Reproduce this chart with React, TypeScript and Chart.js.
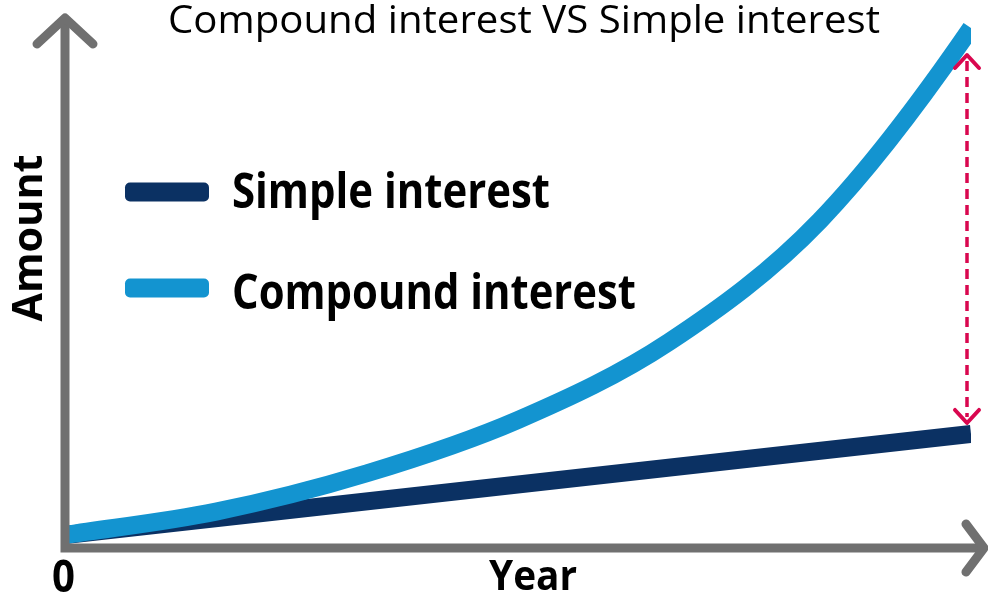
import React, { useEffect, useRef } from "react";
import { Chart, registerables } from "chart.js";

Chart.register(...registerables);

const TITLE = "Compound interest VS Simple interest";
const X_TITLE = "Year";
const Y_TITLE = "Amount";
const ORIGIN_LABEL = "0";

const simpleLabel = "Simple interest";
const simpleYears = [0, 30];
const simpleValues = [100, 877];

const compoundLabel = "Compound interest";
const compoundYears = [0, 5, 10, 15, 20, 25, 30, 30.5];
const compoundValues = [100, 280, 575, 985, 1585, 2520, 4000, 4190];

const X_MIN = 0;
const X_MAX = 30;
const Y_MIN = 0;
const Y_MAX = 4200;

const NAVY = "#0b3163";
const BLUE = "#1394d0";
const GRAY = "#707070";
const RED = "#d9074f";

function fitText(
  ctx: CanvasRenderingContext2D,
  text: string,
  x: number,
  y: number,
  font: string,
  width: number,
  align: CanvasTextAlign
) {
  ctx.save();
  ctx.font = font;
  const w = ctx.measureText(text).width || 1;
  const s = width / w;
  ctx.translate(x, y);
  ctx.scale(s, 1);
  ctx.textAlign = align;
  ctx.textBaseline = "alphabetic";
  ctx.fillStyle = "#000";
  ctx.fillText(text, 0, 0);
  ctx.restore();
}

const decorPlugin = {
  id: "decor",
  afterDatasetsDraw(chart: any) {
    const ctx: CanvasRenderingContext2D = chart.ctx;
    const { left, bottom } = chart.chartArea;
    const xs = chart.scales.x;
    const ys = chart.scales.y;

    // red dashed difference arrow at the last year
    const ax = xs.getPixelForValue(X_MAX) - 4;
    const compEnd = ys.getPixelForValue(compoundValues[compoundYears.indexOf(30)]);
    const simpEnd = ys.getPixelForValue(simpleValues[simpleValues.length - 1]);
    const topTip = compEnd + 27;
    const botTip = simpEnd - 11;
    ctx.save();
    ctx.strokeStyle = RED;
    ctx.lineWidth = 3.5;
    ctx.setLineDash([10, 6]);
    ctx.beginPath();
    ctx.moveTo(ax, topTip + 6);
    ctx.lineTo(ax, botTip - 6);
    ctx.stroke();
    ctx.setLineDash([]);
    ctx.lineWidth = 4;
    ctx.lineCap = "round";
    ctx.lineJoin = "round";
    ctx.beginPath();
    ctx.moveTo(ax - 12, topTip + 13);
    ctx.lineTo(ax, topTip);
    ctx.lineTo(ax + 12, topTip + 13);
    ctx.stroke();
    ctx.beginPath();
    ctx.moveTo(ax - 12, botTip - 13);
    ctx.lineTo(ax, botTip);
    ctx.lineTo(ax + 12, botTip - 13);
    ctx.stroke();
    ctx.restore();

    // axes with arrows
    ctx.save();
    ctx.strokeStyle = GRAY;
    ctx.lineWidth = 9;
    ctx.lineCap = "butt";
    ctx.beginPath();
    ctx.moveTo(left, bottom + 4.5);
    ctx.lineTo(left, 20);
    ctx.moveTo(left - 4.5, bottom);
    ctx.lineTo(983, bottom);
    ctx.stroke();
    ctx.lineCap = "round";
    ctx.lineJoin = "round";
    ctx.beginPath();
    ctx.moveTo(left - 28, 44);
    ctx.lineTo(left, 18);
    ctx.lineTo(left + 28, 44);
    ctx.stroke();
    ctx.beginPath();
    ctx.moveTo(966, bottom - 24);
    ctx.lineTo(984, bottom);
    ctx.lineTo(966, bottom + 24);
    ctx.stroke();
    ctx.restore();
  },
  afterDraw(chart: any) {
    const ctx: CanvasRenderingContext2D = chart.ctx;
    const ds = chart.data.datasets;

    // title
    fitText(ctx, TITLE, 524, 33, "400 39px 'Open Sans'", 712, "center");

    // legend (Simple first, then Compound)
    const items = [ds[0], ds[1]];
    const rows = [
      { bar: 192, base: 208, w: 318 },
      { bar: 288, base: 309, w: 404 },
    ];
    items.forEach((d: any, i: number) => {
      const r = rows[i];
      ctx.save();
      ctx.fillStyle = d.borderColor;
      ctx.beginPath();
      (ctx as any).roundRect(125, r.bar - 9.5, 84, 19, 5);
      ctx.fill();
      ctx.restore();
      fitText(ctx, d.label, 232, r.base, "700 49px 'Open Sans'", r.w, "left");
    });

    // axis titles
    ctx.save();
    ctx.translate(42, 238);
    ctx.rotate(-Math.PI / 2);
    fitText(ctx, Y_TITLE, 0, 0, "700 41px 'Open Sans'", 167, "center");
    ctx.restore();
    fitText(ctx, X_TITLE, 533, 590, "700 41px 'Open Sans'", 88, "center");
    fitText(ctx, ORIGIN_LABEL, 63.5, 592, "700 45px 'Open Sans'", 23, "center");
  },
};

export default function App() {
  const ref = useRef<HTMLCanvasElement | null>(null);

  useEffect(() => {
    if (!ref.current) return;
    const chart = new Chart(ref.current, {
      type: "line",
      data: {
        datasets: [
          {
            label: simpleLabel,
            data: simpleYears.map((t, i) => ({ x: t, y: simpleValues[i] })),
            borderColor: NAVY,
            backgroundColor: NAVY,
            borderWidth: 18,
            borderCapStyle: "butt",
            pointRadius: 0,
            order: 1,
            clip: { left: 0, top: false, right: 0, bottom: false } as any,
          },
          {
            label: compoundLabel,
            data: compoundYears.map((t, i) => ({ x: t, y: compoundValues[i] })),
            borderColor: BLUE,
            backgroundColor: BLUE,
            borderWidth: 18,
            borderCapStyle: "butt",
            cubicInterpolationMode: "monotone",
            pointRadius: 0,
            order: 0,
            clip: { left: 0, top: false, right: 0, bottom: false } as any,
          },
        ],
      },
      options: {
        responsive: false,
        animation: false,
        devicePixelRatio: 1,
        layout: { padding: { left: 65, right: 17, top: 2, bottom: 47 } },
        scales: {
          x: { type: "linear", min: X_MIN, max: X_MAX, display: false },
          y: { type: "linear", min: Y_MIN, max: Y_MAX, display: false },
        },
        plugins: {
          legend: { display: false },
          tooltip: { enabled: false },
          title: { display: false },
        },
      },
      plugins: [decorPlugin],
    });
    return () => chart.destroy();
  }, []);

  return (
    <div style={{ position: "absolute", left: 0, top: 0, width: 988, height: 595, background: "#fff" }}>
      <canvas ref={ref} width={988} height={595} />
    </div>
  );
}
